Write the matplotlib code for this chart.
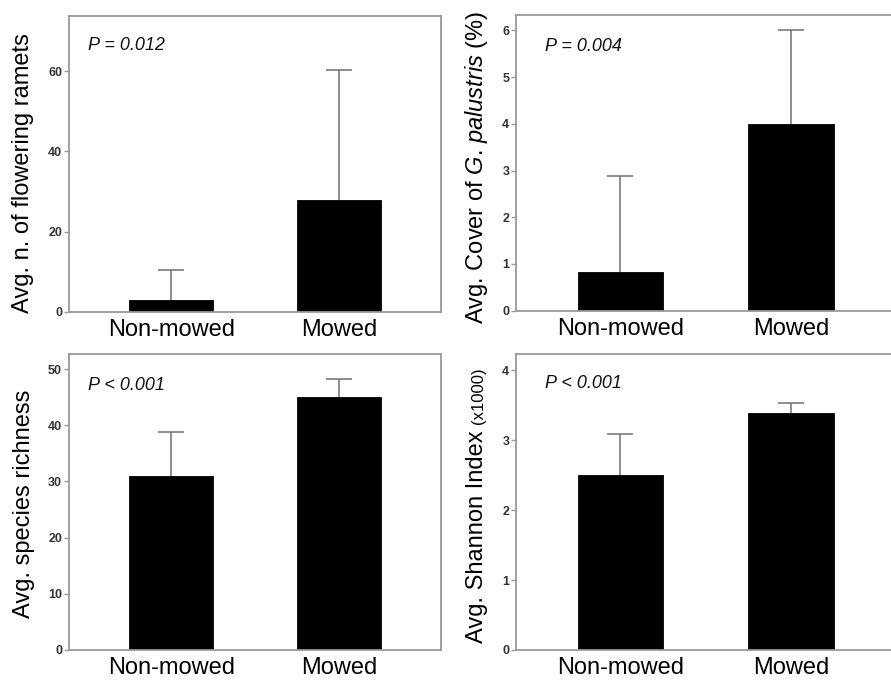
import matplotlib
matplotlib.use("Agg")
import matplotlib.pyplot as plt
import matplotlib.transforms as mtransforms

plt.rcParams['font.family'] = ['Liberation Sans', 'DejaVu Sans']
plt.rcParams['mathtext.fontset'] = 'custom'
plt.rcParams['mathtext.rm'] = 'Liberation Sans'
plt.rcParams['mathtext.it'] = 'Liberation Sans:italic'

categories = ["Non-mowed", "Mowed"]

ramets_mean = [3.0, 27.8]
ramets_upper = [10.5, 60.3]
ramets_ticks = [0, 20, 40, 60]

cover_mean = [0.83, 4.0]
cover_upper = [2.88, 6.0]
cover_ticks = [0, 1, 2, 3, 4, 5, 6]

richness_mean = [30.9, 45.0]
richness_upper = [38.8, 48.2]
richness_ticks = [0, 10, 20, 30, 40, 50]

shannon_mean = [2.5, 3.39]
shannon_upper = [3.08, 3.53]
shannon_ticks = [0, 1, 2, 3, 4]

p_texts = ["P = 0.012", "P = 0.004", "P < 0.001", "P < 0.001"]

W, H = 891, 680
fig = plt.figure(figsize=(W / 100, H / 100), dpi=100)

def px_axes(left, top, right, bottom):
    return fig.add_axes([left / W, 1 - bottom / H, (right - left) / W, (bottom - top) / H])

spine_col = "#9a9a9a"
err_col = "#707070"

def panel(ax, means, uppers, ticks, ymax, ptext, pxy):
    x = list(range(len(categories)))
    lower = [0 for _ in means]
    up = [u - m for u, m in zip(uppers, means)]
    eb = ax.errorbar(x, means, yerr=[lower, up], fmt='none', ecolor=err_col,
                     elinewidth=1.1, capsize=9.5, capthick=1.1, zorder=1)
    caps = eb[1]
    if len(caps) == 2:
        caps[0].set_visible(False)
    ax.bar(x, means, width=0.5, color='black', edgecolor='black', linewidth=0.6, zorder=2)
    ax.set_xlim(-0.61, 1.61)
    ax.set_ylim(0, ymax)
    ax.set_yticks(ticks)
    ax.set_xticks(x)
    ax.set_xticklabels(categories, fontsize=17)
    offsets = [6, -2]
    for lab, off in zip(ax.get_xticklabels(), offsets):
        lab.set_transform(lab.get_transform() + mtransforms.ScaledTranslation(off / 100, 0, fig.dpi_scale_trans))
    ax.tick_params(axis='x', length=0, pad=5, colors='black')
    ax.tick_params(axis='y', length=3.5, width=1, color=spine_col, labelsize=9,
                   labelcolor='#333333', pad=1.5)
    for lab in ax.get_yticklabels():
        lab.set_fontweight('bold')
    for s in ax.spines.values():
        s.set_color(spine_col)
        s.set_linewidth(1.3)
    ax.text(pxy[0], pxy[1], ptext, transform=ax.transAxes, fontsize=13,
            style='italic', ha='left', va='center', color='#111111')

ax1 = px_axes(69, 16, 441, 312)
panel(ax1, ramets_mean, ramets_upper, ramets_ticks, 73.7, p_texts[0], (0.051, 0.899))
ax1.set_ylabel("Avg. n. of flowering ramets", fontsize=17, va='center')
ax1.yaxis.set_label_coords(-0.124, 0.468)

ax2 = px_axes(516.3, 15, 895, 310.7)
panel(ax2, cover_mean, cover_upper, cover_ticks, 6.33, p_texts[1], (0.076, 0.895))
ax2.set_ylabel(r"Avg. Cover of $\mathit{G}$. $\mathit{palustris}$ (%)", fontsize=17, va='center')
ax2.yaxis.set_label_coords(-0.105, 0.483)

ax3 = px_axes(69, 354, 441, 650)
panel(ax3, richness_mean, richness_upper, richness_ticks, 52.7, p_texts[2], (0.051, 0.895))
ax3.set_ylabel("Avg. species richness", fontsize=17, va='center')
ax3.yaxis.set_label_coords(-0.121, 0.493)

ax4 = px_axes(516.3, 354, 895, 650)
panel(ax4, shannon_mean, shannon_upper, shannon_ticks, 4.23, p_texts[3], (0.076, 0.901))
t1 = ax4.text(-0.088, 0.024, "Avg. Shannon Index ", transform=ax4.transAxes, fontsize=17,
              rotation=90, rotation_mode='anchor', ha='left', va='baseline')
fig.canvas.draw()
bb = t1.get_window_extent()
inv = ax4.transAxes.inverted()
ytop = inv.transform((bb.x0, bb.y1))[1]
ax4.text(-0.088, ytop, "(x1000)", transform=ax4.transAxes, fontsize=12,
         rotation=90, rotation_mode='anchor', ha='left', va='baseline')

fig.savefig("out.png", dpi=100)
